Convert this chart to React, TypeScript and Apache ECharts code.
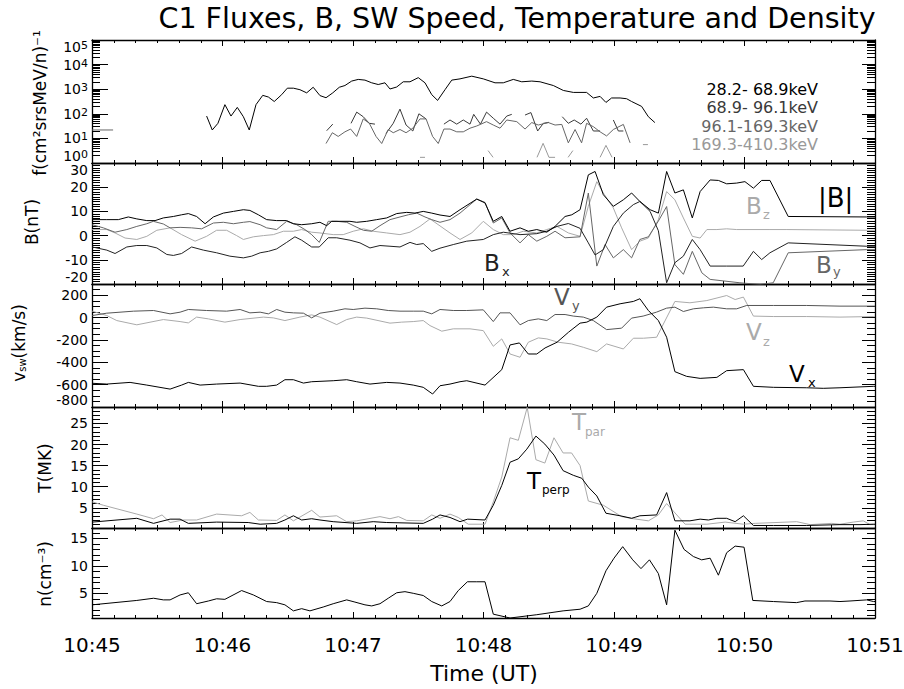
import React, { useEffect, useRef } from 'react';
import * as echarts from 'echarts';

type P = [number, number] | null;

// ---------- tick labels / categories ----------
const X_TICK_LABELS = ['10:45', '10:46', '10:47', '10:48', '10:49', '10:50', '10:51'];
const FLUX_EXPONENTS = [0, 1, 2, 3, 4, 5];
const B_TICKS = [-20, -10, 0, 10, 20, 30];
const V_TICKS = [-800, -600, -400, -200, 0, 200];
const T_TICKS = [5, 10, 15, 20, 25];
const N_TICKS = [5, 10, 15];
const FLUX_BANDS = ['28.2- 68.9keV', '68.9- 96.1keV', '96.1-169.3keV', '169.3-410.3keV'];

// ---------- data: [seconds after 10:45:00, value], null = gap ----------
const FLUX_28: P[] = [
  [52.7, 81], [55.3, 22], [57.9, 41], [61.1, 235], [63.9, 81], [66.8, 182], [69.6, 76], [72.3, 22], [75.4, 235],
  [78.5, 562], [81.1, 480], [83.8, 316], [87.2, 600], [89.8, 1100], [92.6, 1100], [95.6, 955], [98.7, 710],
  [101.7, 1200], [104.8, 550], [107.6, 450], [110.7, 710], [113.7, 1200], [116.3, 1410], [119.4, 2140],
  [122.4, 2500], [125.5, 2340], [128.6, 1820], [131.6, 1550], [134.7, 1820], [137.0, 1020], [140.1, 1230],
  [143.1, 2000], [146.2, 2000], [150.0, 2950], [153.1, 1820], [156.2, 600], [158.9, 350], [162.3, 955],
  [165.4, 2340], [169.2, 2630], [174.6, 3390], [179.9, 2630], [185.3, 1820], [189.1, 1820], [193.7, 2500],
  [197.6, 2000], [202.2, 2140], [206.0, 2000], [212.1, 1410], [216.7, 890], [221.3, 740], [227.4, 740],
  [230.5, 440], [233.6, 510], [236.3, 290], [238.9, 440], [242.8, 440], [245.8, 410], [248.1, 316],
  [252.7, 200], [255.8, 76], [258.8, 44],
];
const FLUX_69: P[] = [
  [107.9, 20.5], [110.7, 38], null,
  [119.1, 41], [121.7, 117], [124.7, 76], [127.5, 41], [130.1, 38], null,
  [135.2, 16], [138.5, 41], [141.6, 155], [144.4, 35], [147.5, 20], [150.3, 100], [153.6, 62], null,
  [161.8, 38], [164.6, 56], [167.7, 38], [170.7, 56], [173.8, 38], [175.5, 95], [178.6, 38], [181.4, 117],
  [184.5, 66], [187.6, 38], [190.7, 81], [193.0, 95], null,
  [199.1, 89], [201.8, 112], [204.9, 20], [207.5, 41], [210.1, 45], null,
  [216.2, 76], [219.0, 41], [221.7, 56], [224.8, 38], [227.4, 66], [230.5, 20], [233.6, 20], null,
  [239.7, 56], [242.0, 20], [244.3, 20],
];
const FLUX_96: P[] = [
  [0, 22], [9.7, 22], null,
  [107.6, 6.2], [110.5, 17], [113.2, 12], [116.3, 18.5], [118.9, 24], [121.7, 12], [124.7, 62], [127.5, 41],
  [130.6, 12], [133.2, 6.2], [136.2, 23], [138.5, 17], [141.6, 23], [144.4, 17], [147.5, 26], [150.8, 62],
  [153.6, 62], [156.6, 12], [159.2, 6.2], [161.8, 24], [164.6, 24], [167.7, 18.5], [170.7, 18.5], [173.8, 26],
  [176.9, 32], [181.4, 48], [184.5, 35], [187.6, 26], [190.7, 56], [195.3, 48], [199.1, 24], [202.2, 44],
  [205.2, 35], [209.8, 44], [212.9, 35], [216.0, 37], [219.0, 6.6], [222.1, 23], [225.1, 6.6], [227.4, 41],
  [230.5, 30], [233.6, 18.5], [236.6, 12.6], [239.7, 23], [244.3, 37], [247.4, 6.6],
];
const FLUX_169: P[] = [
  [150.8, 1.7], [153.1, 1.7], null,
  [182.1, 3.2], [184.4, 1.7], null,
  [204.6, 1.7], [207.4, 6.3], [210.1, 1.7], [212.9, 1.7], null,
  [218.9, 1.7], [221.1, 3.2], null,
  [233.6, 1.7], [236.3, 5.2], [239.1, 1.7], null,
  [253.3, 5.6], [255.6, 5.6],
];

const B_MAG: P[] = [
  [0.1, 6.6], [6.8, 6.6], [12.1, 6.6], [16.7, 7.7], [20.6, 6.9], [25.2, 6.2], [29.0, 6.2], [32.8, 7.3],
  [37.4, 7.9], [41.2, 8.6], [44.3, 9.1], [48.1, 7.9], [52.0, 4.9], [55.8, 7.7], [60.4, 9.3], [65.0, 10],
  [69.6, 10.7], [72.6, 10.4], [76.5, 8.6], [80.3, 6.6], [84.9, 6.2], [89.5, 6.2], [92.6, 4.9], [96.4, 4.5],
  [101.0, 4.9], [104.8, 5.5], [107.9, 4.1], [110.2, 5.9], [114.0, 5.9], [118.6, 5.9], [121.7, 5.5],
  [126.3, 5.9], [130.9, 6.6], [135.5, 7.3], [140.1, 9.1], [144.7, 9.6], [148.5, 9.3], [152.3, 10],
  [156.2, 9.3], [160.0, 8.5], [164.6, 7.9], [169.2, 10.7], [176.9, 15.1], [180.7, 13.5], [184.5, 5.9],
  [188.4, 7.9], [192.2, 1.8], [196.8, 3.2], [200.6, 1.8], [204.5, 2.5], [209.1, 1.4], [212.9, 3.8],
  [217.5, 7.9], [220.6, 8.6], [224.4, 10.7], [228.2, 25.1], [231.3, 26.5], [235.1, 16.9], [239.7, 12.1],
  [244.3, 14.8], [248.1, 17.6], [251.9, 14.1], [256.6, 10.7], [260.4, 9.3], [264.2, 26.5], [268.0, 17.6],
  [271.9, 18.9], [276.0, 7.3], [279.6, 18.2], [284.2, 23], [288.0, 22.8], [291.8, 21.4], [296.4, 21.7],
  [300.2, 22.3], [304.1, 19.6], [307.9, 22.8], [311.7, 22.8], [320.1, 7.9], [356.2, 7.7], [360, 7.7],
];
const B_X: P[] = [
  [0.1, -4.7], [6.8, -6], [10.6, -7.4], [16.0, -4.7], [20.6, -4.1], [25.2, -4.1], [29.8, -5.1], [34.4, -7.8],
  [37.4, -8.2], [41.2, -7.4], [45.8, -4.7], [51.2, -6], [57.3, -7.1], [63.4, -8.5], [69.6, -9.2], [73.4, -8.5],
  [77.3, -7.1], [81.1, -6.5], [84.9, -5.5], [89.5, -2.8], [93.3, -0.5], [96.4, -1.9], [101.0, -4.7],
  [104.5, -4.7], [108.6, -0.9], [112.5, -0.9], [118.6, -1.9], [123.2, -3], [127.8, -5.1], [132.4, -4.1],
  [137.0, -4.4], [141.6, -4.7], [146.2, -2.8], [149.3, -3.7], [152.3, -3.3], [156.2, -6.5], [160.0, -5.2],
  [166.1, -3.7], [172.3, -2.3], [179.9, -1.6], [184.5, 0.4], [189.1, 1.4], [196.8, 0.4], [204.5, 0.8],
  [209.1, 1.8], [213.8, 3.8], [219.0, 5], [224.4, 3], [228.2, -3], [231.3, -8], [235.1, -5.8], [239.7, 3.8],
  [244.3, 9.3], [248.9, 12.8], [251.9, 14.1], [256.6, 10], [260.4, 2], [264.2, -19.5], [268.0, -11.2],
  [271.9, -8.5], [276.0, -1.6], [279.6, -5.8], [284.2, -12.6], [291.8, -12.6], [299.4, -12.6], [304.1, -6.5],
  [307.9, -9.9], [311.7, -7.1], [320.1, -3], [356.2, -4.4], [360, -4.4],
];
const B_Y: P[] = [
  [0.1, 4.5], [5.2, 3.2], [10.6, 1.4], [16.0, 2.5], [20.6, 3.8], [25.2, 4.9], [28.2, 5.9], [32.8, 4.8],
  [35.9, 3.2], [40.5, 3.4], [45.8, 3.2], [50.4, 2.8], [55.8, 5.2], [60.4, 5.5], [65.0, 4.9], [69.6, 5.5],
  [72.6, 5.8], [77.3, 4.5], [80.3, 3.2], [84.9, 2.5], [89.5, 5.9], [94.1, 4.5], [97.9, 2.5], [101.0, 0.4],
  [104.5, -2.8], [108.6, 5.9], [112.5, 5.9], [117.1, 5.5], [120.9, 3.8], [124.8, 2.2], [128.6, 1.8],
  [132.4, 4.1], [137.0, 6.6], [141.6, 7.7], [145.4, 8.6], [149.3, 9.3], [153.1, 7.7], [156.2, 6.6],
  [160.0, 5.5], [164.6, 6.6], [169.2, 9.3], [176.9, 15.1], [180.7, 13.7], [184.5, 5.2], [188.4, 7.3],
  [192.2, 1.1], [196.8, -3], [200.6, 0.4], [204.5, -2.3], [209.1, -0.3], [212.9, 1.8], [217.5, -0.9],
  [224.4, -0.5], [228.2, 17.6], [232.1, -12.6], [235.9, -3.7], [239.7, -9.2], [244.3, -5.8], [248.1, -9.2],
  [251.9, -1.6], [255.8, -0.5], [260.4, 6], [264.2, 12], [268.0, -12], [271.9, -16], [276.0, -6.5],
  [280.4, -15.4], [284.2, -18.1], [297.9, -19.5], [307.1, -20.2], [313.2, -19.5], [320.1, -7.1],
  [356.2, -5.8], [360, -5.8],
];
const B_Z: P[] = [
  [0.1, 2.5], [6.8, 2.5], [10.6, 1.1], [15.2, -1], [20.6, -1.6], [25.2, -0.3], [29.8, 2.2], [35.9, 3.2],
  [41.2, 0.4], [47.4, -2.3], [52.7, -0.3], [57.3, 2.2], [61.9, 2.2], [66.5, 0], [69.6, -1.6], [74.2, -0.5],
  [78.8, 0], [83.4, 0.4], [88.0, 1.8], [92.6, 1.8], [96.4, 2.5], [101.0, 1.4], [104.8, 1.1], [110.9, 0.4],
  [115.5, 0.4], [120.1, 1.8], [124.8, 2.8], [129.3, 1.8], [135.5, 1.1], [141.6, 0.4], [146.2, 1.4],
  [150.8, 3.8], [155.4, 6.9], [160.0, 4], [164.6, 1.1], [169.2, -1.6], [174.6, 1.1], [179.9, 5.9],
  [184.5, 2.5], [189.1, 0.4], [193.7, 0.4], [198.3, 1.8], [204.5, 1.1], [209.1, 2.5], [213.8, 3.8],
  [219.0, 1.1], [224.4, -0.3], [228.2, 12.1], [232.1, 22.3], [235.1, 17.6], [239.7, 11.4], [243.5, 3.2],
  [248.1, -5.8], [251.9, -2.3], [255.8, -1], [260.4, 6.6], [264.2, 18.2], [268.0, 14.8], [271.9, 7.3],
  [276.0, -0.3], [279.6, -1], [282.7, 2.5], [287.3, 2.5], [291.8, 2.8], [296.4, 2.5], [311.7, 2.5],
  [319.5, 2.5], [356.2, 2.2], [360, 2.2],
];

const V_X: P[] = [
  [0.1, -588], [6.8, -595], [17.5, -580], [25.2, -604], [35.9, -640], [41.2, -604], [44.3, -580], [49.7, -604],
  [57.3, -595], [68.1, -586], [76.5, -615], [80.3, -615], [84.9, -604], [88.7, -556], [92.6, -556], [97.2, -586],
  [101.0, -574], [110.9, -565], [117.1, -556], [121.7, -574], [127.8, -595], [135.5, -580], [141.6, -586],
  [147.7, -604], [152.3, -624], [156.6, -684], [160.0, -610], [164.6, -595], [169.2, -574], [172.3, -565],
  [180.7, -604], [188.4, -466], [192.2, -245], [196.5, -227], [200.6, -326], [204.5, -326], [208.3, -272],
  [213.8, -221], [219.1, -131], [224.4, -50], [227.5, -41], [232.1, 4], [236.6, 93], [242.8, 123],
  [248.9, 144], [251.9, 168], [255.8, 63], [260.4, -27], [264.2, -176], [268.0, -484], [273.4, -526],
  [279.6, -544], [287.3, -535], [291.8, -475], [299.5, -466], [304.1, -615], [313.3, -624], [328.6, -628],
  [336.2, -633], [343.9, -628], [359.3, -615], [360, -615],
];
const V_Y: P[] = [
  [0.1, 18], [6.8, 39], [19.1, 57], [28.3, 63], [35.9, 33], [40.5, 48], [44.3, 72], [52.7, 63], [61.9, 57],
  [68.1, 72], [72.6, 42], [77.3, 48], [81.1, 33], [84.9, 72], [88.7, 48], [92.6, 42], [97.2, 39], [101.0, -3],
  [104.8, 39], [110.9, 57], [116.3, 78], [120.1, 72], [125.5, 84], [130.9, 78], [136.2, 63], [141.6, 57],
  [147.7, 57], [152.3, 57], [156.2, 33], [160.0, 72], [166.1, 63], [172.3, 63], [179.9, 69], [184.5, -36],
  [187.6, 42], [192.2, 42], [196.8, -65], [200.6, -27], [205.2, -12], [209.1, -27], [212.9, 27], [217.5, 27],
  [221.3, 13], [225.9, 4], [230.5, -27], [236.6, -108], [243.5, -95], [248.1, -5], [253.4, 13], [259.5, 48],
  [264.2, 84], [268.0, 93], [271.9, 54], [276.5, 78], [281.1, 87], [285.7, 93], [291.8, 78], [296.4, 78],
  [301.0, 108], [313.3, 108], [328.6, 108], [343.9, 102], [359.3, 102], [360, 102],
];
const V_Z: P[] = [
  [0.1, 57], [6.8, 18], [11.4, -27], [20.6, -65], [32.8, -18], [40.5, -36], [44.3, -48], [48.1, 4], [53.5, -12],
  [61.1, -41], [68.1, -18], [78.8, 4], [83.4, -3], [88.7, -27], [95.6, 4], [101.0, 24], [104.8, 4], [112.5, -63],
  [117.1, -18], [121.7, 4], [126.3, -5], [137.0, -50], [142.4, -41], [147.7, -36], [152.3, -27], [155.4, -72],
  [160.8, -122], [166.1, -101], [173.8, -101], [179.9, -117], [184.5, -257], [188.4, -191], [192.2, -326],
  [196.8, -355], [200.6, -221], [205.2, -182], [209.1, -191], [214.4, -221], [220.5, -236], [225.9, -266],
  [232.1, -305], [236.6, -236], [244.3, -281], [248.9, -185], [253.5, -185], [259.6, -176], [268.0, 144],
  [274.9, 132], [282.7, 152], [291.8, 197], [295.7, 161], [299.5, 183], [304.1, 13], [313.3, 9], [328.6, 9],
  [343.9, 4], [359.3, 9], [360, 9],
];

const T_PAR: P[] = [
  [0.1, 6.4], [5.2, 5.6], [20.6, 3.5], [28.3, 2.4], [32.2, 3.3], [35.9, 1.5], [42.0, 2.1], [48.1, 2.1],
  [57.3, 3.5], [68.8, 3.1], [72.6, 3.9], [76.5, 2.1], [84.9, 2], [88.7, 3.3], [92.6, 1.9], [101.0, 4.4],
  [104.8, 2.8], [112.5, 3.1], [117.1, 1.7], [121.7, 1.9], [132.4, 2.9], [137.0, 2.4], [140.9, 2.9],
  [144.7, 2], [152.3, 1.9], [156.2, 3.3], [160.0, 2.5], [164.6, 3.5], [168.4, 2.7], [173.0, 1.1],
  [180.7, 1.1], [184.5, 6.4], [188.4, 12.3], [192.2, 21.6], [196.0, 21], [200.1, 28.8], [204.1, 16.4],
  [208.2, 15.6], [212.4, 21.6], [216.6, 18], [220.5, 18], [224.4, 15], [228.2, 6.6], [235.1, 5.6],
  [243.5, 2.9], [248.9, 2.4], [255.8, 1.9], [260.4, 3.3], [264.2, 6], [267.3, 4.2], [272.7, 1.1],
  [282.7, 1.1], [291.1, 1.6], [299.5, 1.1], [304.9, 1.3], [324.0, 1.7], [330.2, 1], [340.1, 1.3],
  [343.9, 1.1], [350.0, 1.6], [354.6, 1.9], [357.7, 1.0], [360, 1.0],
];
const T_PERP: P[] = [
  [0.1, 1.6], [20.6, 2.5], [28.3, 1.3], [35.9, 2.3], [40.5, 2.3], [44.3, 1.3], [57.3, 1.6], [71.8, 1.5],
  [77.3, 1.1], [84.9, 1.3], [88.7, 2.1], [92.6, 3.1], [96.4, 2.1], [101.0, 2.4], [104.8, 2.1], [110.9, 1.7],
  [121.7, 1.3], [129.3, 1.7], [135.5, 1.5], [152.3, 1.3], [156.6, 2.3], [160.0, 3.3], [164.6, 2.7],
  [169.2, 1.7], [172.7, 2.3], [180.7, 2.1], [184.5, 5.6], [188.4, 10.3], [192.2, 15.8], [196.0, 16.6],
  [199.9, 18.9], [204.1, 22], [208.2, 20.1], [212.4, 17.5], [216.6, 13.8], [221.3, 12.7], [225.2, 12],
  [228.2, 9.9], [232.1, 7.8], [236.3, 3.7], [242.8, 3.1], [248.1, 2.5], [251.9, 3.1], [259.6, 3.3],
  [264.2, 8.6], [268.0, 1.9], [274.9, 1.9], [279.6, 2.3], [283.4, 2.1], [287.3, 2.5], [291.8, 2.5],
  [295.7, 1.7], [299.5, 3.1], [304.1, 0.8], [313.3, 0.8], [328.6, 0.8], [343.9, 1], [353.1, 1],
  [359.3, 1.1], [360, 1.1],
];

const N_DENS: P[] = [
  [0.1, 2.9], [20.6, 3.7], [28.3, 4.1], [32.8, 3.8], [35.9, 3.8], [40.5, 4.7], [44.3, 5.1], [48.1, 3.1],
  [53.5, 3.6], [57.3, 4], [61.1, 3.9], [68.8, 5.5], [74.2, 4.7], [80.3, 3.5], [84.9, 3.3], [88.7, 2.9],
  [92.6, 1.8], [96.4, 2.2], [100.2, 1.8], [106.3, 2.5], [110.9, 3.1], [117.1, 3.8], [120.9, 3.4],
  [125.5, 2.9], [128.6, 2.7], [132.4, 3.1], [136.2, 4.1], [140.1, 5.1], [143.9, 5.3], [147.7, 5],
  [152.3, 4.6], [156.2, 3.5], [160.8, 2.7], [164.6, 3.5], [168.4, 5.5], [172.6, 7.1], [176.9, 7.1],
  [180.7, 7.1], [184.5, 1.2], [192.2, 0.5], [204.5, 1.1], [216.6, 1.8], [224.4, 2.1], [228.2, 2.7],
  [232.1, 5], [236.3, 9.1], [240.0, 11.4], [244.0, 13.5], [248.6, 11.1], [252.4, 9.5], [256.3, 11.1],
  [260.4, 8.6], [264.2, 2.9], [268.0, 16.5], [272.2, 13], [276.5, 11.7], [280.3, 11.1], [284.2, 11.4],
  [288.0, 8.3], [291.8, 12.4], [295.7, 13.6], [299.8, 13.4], [303.8, 3.7], [313.3, 3.5], [323.9, 3.3],
  [327.8, 3.6], [339.3, 3.6], [343.9, 3.5], [348.5, 3.6], [356.2, 3.8], [359.3, 3.5], [360, 3.5],
];

// ---------- layout / style ----------
const FONT = 'DejaVu Sans';
const GRID_LEFT = 92;
const GRID_W = 783;
const PANELS = [
  { top: 40, height: 123 },
  { top: 163, height: 121 },
  { top: 284, height: 123 },
  { top: 407, height: 121 },
  { top: 528, height: 90 },
];
const FLUX_COLORS = ['#000000', '#3a3a3a', '#666666', '#999999'];

const SUP_MAP: Record<string, string> = {
  '0': '\u2070', '1': '\u00b9', '2': '\u00b2', '3': '\u00b3', '4': '\u2074', '5': '\u2075',
  '6': '\u2076', '7': '\u2077', '8': '\u2078', '9': '\u2079', '-': '\u207b',
};
const sup = (s: string) => s.split('').map((c) => SUP_MAP[c] ?? c).join('');

const range = (a: number, b: number, step: number) => {
  const out: number[] = [];
  for (let v = a; v <= b + 1e-9; v += step) out.push(Math.round(v * 1000) / 1000);
  return out;
};

const X_MAJOR = X_TICK_LABELS.map((_, i) => i * 60);
const X_MINOR = range(0, 360, 10);

const lineOn = () => ({ show: true, onZero: false, lineStyle: { color: '#000', width: 1.3 } });
const lineOff = () => ({ show: false, onZero: false });
const tick = (length: number, values?: number[]) => {
  const t: any = { show: true, inside: true, length, lineStyle: { color: '#000', width: 1 } };
  if (values) t.customValues = values.slice();
  return t;
};

function makeX(gi: number, last: boolean) {
  const common = () => ({ type: 'value', gridIndex: gi, min: 0, max: 360, splitLine: { show: false } });
  return [
    {
      ...common(), position: 'bottom', axisLine: lineOn(), axisTick: tick(6, X_MAJOR),
      axisLabel: last
        ? {
            show: true, customValues: X_MAJOR.slice(), margin: 17, fontSize: 20, color: '#000', fontFamily: FONT,
            formatter: (v: number) => X_TICK_LABELS[Math.round(v / 60)],
          }
        : { show: false },
    },
    { ...common(), position: 'bottom', axisLine: lineOff(), axisTick: tick(3, X_MINOR), axisLabel: { show: false } },
    { ...common(), position: 'top', axisLine: lineOn(), axisTick: tick(6, X_MAJOR), axisLabel: { show: false } },
    { ...common(), position: 'top', axisLine: lineOff(), axisTick: tick(3, X_MINOR), axisLabel: { show: false } },
  ];
}

const yLabel = (values?: number[], extra: any = {}) => {
  const l: any = { show: true, fontSize: 14, color: '#000', fontFamily: FONT, margin: 4, ...extra };
  if (values) l.customValues = values.slice();
  return l;
};

function makeLinearY(gi: number, min: number, max: number, major: number[], minorStep: number, labelExtra: any = {}) {
  const common = () => ({ type: 'value', gridIndex: gi, min, max, splitLine: { show: false } });
  const minorVals = range(Math.ceil(min / minorStep) * minorStep, max, minorStep);
  return [
    { ...common(), position: 'left', axisLine: lineOn(), axisTick: tick(16, major), axisLabel: yLabel(major, labelExtra) },
    { ...common(), position: 'left', axisLine: lineOff(), axisTick: tick(8, minorVals), axisLabel: { show: false } },
    { ...common(), position: 'right', axisLine: lineOn(), axisTick: tick(13, major), axisLabel: { show: false } },
    { ...common(), position: 'right', axisLine: lineOff(), axisTick: tick(8, minorVals), axisLabel: { show: false } },
  ];
}

function makeLogY(gi: number) {
  const lo = FLUX_EXPONENTS[0];
  const hi = FLUX_EXPONENTS[FLUX_EXPONENTS.length - 1];
  const logCommon = () => ({ type: 'log', logBase: 10, gridIndex: gi, min: Math.pow(10, lo), max: Math.pow(10, hi), splitLine: { show: false } });
  const minorPos: number[] = [];
  FLUX_EXPONENTS.slice(0, -1).forEach((d) => {
    for (let k = 2; k <= 9; k++) minorPos.push(d + Math.log10(k));
  });
  const linCommon = () => ({ type: 'value', gridIndex: gi, min: lo, max: hi, splitLine: { show: false } });
  return [
    {
      ...logCommon(), position: 'left', axisLine: lineOn(), axisTick: tick(16),
      axisLabel: yLabel(undefined, {
        verticalAlignMinLabel: 'bottom', verticalAlignMaxLabel: 'top',
        formatter: (v: number) => '10{e|' + Math.round(Math.log10(v)) + '}',
        rich: { e: { fontSize: 11, fontFamily: FONT, color: '#000', verticalAlign: 'top', lineHeight: 9 } },
      }),
    },
    { ...linCommon(), position: 'left', axisLine: lineOff(), axisTick: tick(8, minorPos), axisLabel: { show: false } },
    { ...logCommon(), position: 'right', axisLine: lineOn(), axisTick: tick(13), axisLabel: { show: false } },
    { ...linCommon(), position: 'right', axisLine: lineOff(), axisTick: tick(8, minorPos), axisLabel: { show: false } },
  ];
}

const toData = (arr: P[]) => arr.map((p) => (p === null ? ['-', '-'] : p.slice()));

function lineSeries(gi: number, data: P[], color: string, name: string) {
  return {
    name, type: 'line', xAxisIndex: gi * 4, yAxisIndex: gi * 4, data: toData(data),
    symbol: 'none', showSymbol: false, connectNulls: false, clip: true, silent: true,
    lineStyle: { color, width: 1 }, itemStyle: { color }, z: 3,
  };
}

function txt(text: string, x: number, y: number, size: number, color: string, align = 'left', extra: any = {}) {
  return {
    type: 'text', x, y, silent: true, ...extra,
    style: { text, fill: color, fontSize: size, fontFamily: FONT, textAlign: align, textVerticalAlign: 'middle' },
  };
}

function buildOption() {
  const grids = PANELS.map((p) => ({
    left: GRID_LEFT, width: GRID_W, top: p.top, height: p.height, containLabel: false, outerBoundsMode: 'none',
  }));
  const xAxis = PANELS.flatMap((_, i) => makeX(i, i === PANELS.length - 1));
  const yAxis = [
    ...makeLogY(0),
    ...makeLinearY(1, B_TICKS[0], B_TICKS[B_TICKS.length - 1], B_TICKS, 1, { verticalAlignMinLabel: 'bottom', verticalAlignMaxLabel: 'top' }),
    ...makeLinearY(2, V_TICKS[0], 300, V_TICKS, 50, { verticalAlignMinLabel: 'bottom' }),
    ...makeLinearY(3, 0.2, 28.9, T_TICKS, 1),
    ...makeLinearY(4, 0.5, 16.9, N_TICKS, 1),
  ];
  const series = [
    lineSeries(0, FLUX_28, FLUX_COLORS[0], FLUX_BANDS[0]),
    lineSeries(0, FLUX_69, FLUX_COLORS[1], FLUX_BANDS[1]),
    lineSeries(0, FLUX_96, FLUX_COLORS[2], FLUX_BANDS[2]),
    lineSeries(0, FLUX_169, FLUX_COLORS[3], FLUX_BANDS[3]),
    lineSeries(1, B_Z, '#aaaaaa', 'Bz'),
    lineSeries(1, B_Y, '#666666', 'By'),
    lineSeries(1, B_X, '#222222', 'Bx'),
    lineSeries(1, B_MAG, '#000000', '|B|'),
    lineSeries(2, V_Z, '#aaaaaa', 'Vz'),
    lineSeries(2, V_Y, '#555555', 'Vy'),
    lineSeries(2, V_X, '#000000', 'Vx'),
    lineSeries(3, T_PAR, '#aaaaaa', 'Tpar'),
    lineSeries(3, T_PERP, '#000000', 'Tperp'),
    lineSeries(4, N_DENS, '#000000', 'n'),
  ];
  const rot = () => ({ rotation: Math.PI / 2 });
  const graphic = [
    txt('C1 Fluxes, B, SW Speed, Temperature and Density', 517, 18, 28.5, '#000', 'center'),
    txt('Time (UT)', 484, 673, 22, '#000', 'center'),
    txt('f(cm\u00b2srsMeV/n)' + sup('-1'), 40, 103, 17, '#000', 'center', rot()),
    txt('B(nT)', 32, 222, 17, '#000', 'center', rot()),
    {
      type: 'text', x: 19, y: 343, rotation: Math.PI / 2, silent: true,
      style: {
        text: 'v{s|sw}(km/s)', fill: '#000', fontSize: 17, fontFamily: FONT, textAlign: 'center', textVerticalAlign: 'middle',
        rich: { s: { fontSize: 10, fontFamily: FONT, fill: '#000', verticalAlign: 'bottom', lineHeight: 10 } },
      },
    },
    txt('T(MK)', 45, 468, 17, '#000', 'center', rot()),
    txt('n(cm' + sup('-3') + ')', 45, 574, 17, '#000', 'center', rot()),
    ...FLUX_BANDS.map((b, i) => txt(b, 818, [89, 107, 126, 144][i], 16, FLUX_COLORS[i], 'right')),
    txt('|B|', 818, 198, 26, '#000'),
    txt('B', 746, 206, 23, '#aaaaaa'),
    txt('z', 763, 214, 13, '#aaaaaa'),
    txt('B', 484, 263, 23, '#222222'),
    txt('x', 502, 271, 13, '#222222'),
    txt('B', 816, 265, 23, '#666666'),
    txt('y', 833, 271, 13, '#666666'),
    txt('V', 554, 297, 23, '#555555'),
    txt('y', 572, 305, 13, '#555555'),
    txt('V', 746, 332, 23, '#aaaaaa'),
    txt('z', 763, 341, 13, '#aaaaaa'),
    txt('V', 789, 374, 23, '#000'),
    txt('x', 808, 382, 13, '#000'),
    txt('T', 572, 422, 23, '#aaaaaa'),
    txt('par', 585, 432, 12, '#aaaaaa'),
    txt('T', 527, 481, 23, '#000'),
    txt('perp', 542, 490, 12, '#000'),
  ];
  return {
    animation: false,
    backgroundColor: '#ffffff',
    grid: grids,
    xAxis,
    yAxis,
    series,
    graphic,
  };
}

export default function App() {
  const ref = useRef<HTMLDivElement>(null);
  useEffect(() => {
    if (!ref.current) return;
    const chart = echarts.init(ref.current, undefined, { renderer: 'svg' });
    chart.setOption(buildOption() as any);
    return () => chart.dispose();
  }, []);
  return (
    <div
      ref={ref}
      style={{ position: 'fixed', left: 0, top: 0, width: 904, height: 689, background: '#fff' }}
    />
  );
}
